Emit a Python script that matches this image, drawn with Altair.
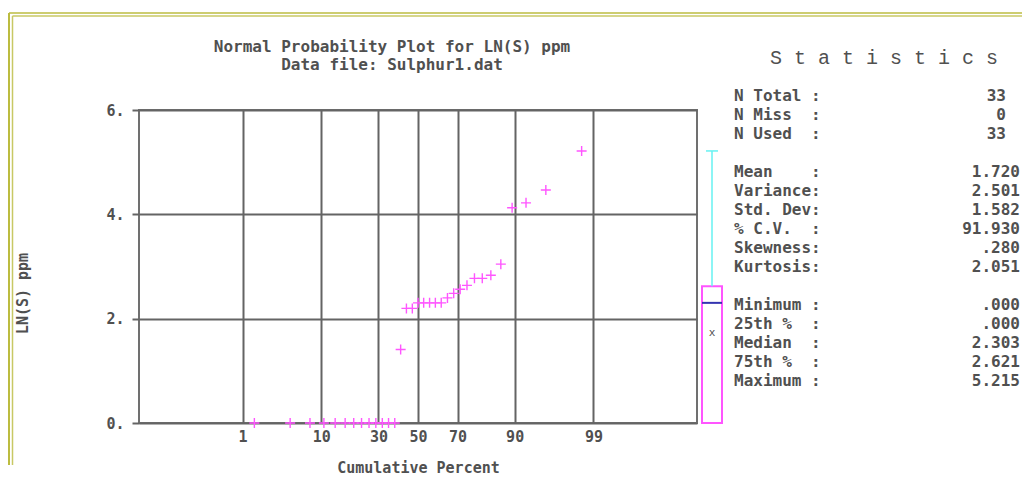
import altair as alt
import pandas as pd
from statistics import NormalDist

# ---------------- data ----------------
cum_pct = [1.5, 4.5, 7.6, 10.6, 13.6, 16.7, 19.7, 22.7, 25.8, 28.8, 31.8, 34.8, 37.9,
           40.9, 43.9, 47.0, 50.0, 53.0, 56.1, 59.1, 62.1, 65.2, 68.2, 71.2, 74.2,
           77.3, 80.3, 83.3, 86.4, 89.4, 92.4, 95.5, 98.5]
ln_s = [0, 0, 0, 0, 0, 0, 0, 0, 0, 0, 0, 0, 0,
        1.41, 2.197, 2.197, 2.303, 2.303, 2.303, 2.303, 2.303,
        2.398, 2.485, 2.565, 2.639, 2.773, 2.773, 2.833, 3.045,
        4.127, 4.220, 4.466, 5.215]
tick_pct = [1, 10, 30, 50, 70, 90, 99]
y_ticks = [0, 2, 4, 6]

stat_labels = ["N Total", "N Miss", "N Used", "Mean", "Variance", "Std. Dev", "% C.V.",
               "Skewness", "Kurtosis", "Minimum", "25th %", "Median", "75th %", "Maximum"]
stat_values = ["33", "0", "33", "1.720", "2.501", "1.582", "91.930", ".280", "2.051",
               ".000", ".000", "2.303", "2.621", "5.215"]
stat_rows = [2, 3, 4, 6, 7, 8, 9, 10, 11, 13, 14, 15, 16, 17]
stat_kind = ["count"] * 3 + ["moment"] * 6 + ["quantile"] * 5

title_lines = ["Normal Probability Plot for LN(S) ppm", "Data file: Sulphur1.dat"]
stats_header = "S t a t i s t i c s"
x_title = "Cumulative Percent"
y_title = "LN(S) ppm"

# ---------------- styling ----------------
FONT = "DejaVu Sans Mono"
TXT = "#505050"
GRID = "#646464"
MAG = "#ff55ff"
OLIVE = "#bcbc40"
OLIVE2 = "#c8c864"

W, H = 558, 313
BOX_W = 20
GAP = 5
STATS_W = 293
ROW_PX = 19
ROW_TOP = 52 / ROW_PX
FS = 16
ADV = 0.602 * FS

# ---------------- main probability plot ----------------
pts = pd.DataFrame({"pct": cum_pct, "ln_s": ln_s})
tick_z = [NormalDist().inv_cdf(p / 100) for p in tick_pct]

main = alt.Chart(pts).transform_calculate(
    z="quantileNormal(datum.pct / 100)"
).mark_point(
    shape="M-1,0H1M0,-1V1", size=100, filled=False, color=MAG,
    strokeWidth=1.4, opacity=1
).encode(
    x=alt.X("z:Q", title=x_title,
            scale=alt.Scale(domain=[-3.7, 3.7], nice=False, zero=False),
            axis=alt.Axis(values=tick_z,
                          labelExpr="format(cumulativeNormal(datum.value) * 100, '.0f')",
                          ticks=False, domain=False, grid=True, gridColor=GRID, gridWidth=2,
                          gridOpacity=1,
                          labelFont=FONT, labelFontSize=15, labelFontWeight="bold",
                          labelColor=TXT, labelPadding=6, labelOverlap=False, labelFlush=False,
                          titleFont=FONT, titleFontSize=15, titleFontWeight="bold",
                          titleColor=TXT, titleY=44, titleBaseline="middle")),
    y=alt.Y("ln_s:Q", title=y_title,
            scale=alt.Scale(domain=[0, 6], nice=False),
            axis=alt.Axis(values=y_ticks, labelExpr="datum.value + '.'",
                          ticks=True, tickSize=7, tickWidth=2, tickColor=GRID,
                          domain=False, grid=True, gridColor=GRID, gridWidth=2, gridOpacity=1,
                          labelFont=FONT, labelFontSize=15, labelFontWeight="bold",
                          labelColor=TXT, labelPadding=8,
                          titleFont=FONT, titleFontSize=15, titleFontWeight="bold",
                          titleColor=TXT, titleX=-117, titleY=183, titleAngle=270,
                          titleAlign="center", titleBaseline="middle")),
).properties(
    width=W, height=H,
    title=alt.Title(title_lines, font=FONT, fontSize=16, fontWeight="bold", color=TXT,
                    anchor="middle", frame="group", dx=-26, offset=30, lineHeight=18),
    view=alt.ViewBackground(stroke="#707070", strokeWidth=2),
)

# ---------------- box plot beside the axis ----------------
sv = dict(zip(stat_labels, stat_values))
box_df = pd.DataFrame({
    "q1": [float(sv["25th %"])], "median": [float(sv["Median"])],
    "q3": [float(sv["75th %"])], "max": [float(sv["Maximum"])],
    "mean": [float(sv["Mean"])],
})
y_sc = alt.Scale(domain=[0, 6], nice=False)
bb = alt.Chart(box_df)
box_rect = bb.mark_rect(fillOpacity=0, stroke=MAG, strokeWidth=2).encode(
    x=alt.value(0), x2=alt.value("width"),
    y=alt.Y("q1:Q", scale=y_sc, axis=None), y2="q3:Q")
box_med = bb.mark_rule(color="#3434b0", strokeWidth=2).encode(
    x=alt.value(0), x2=alt.value("width"),
    y=alt.Y("median:Q", scale=y_sc, axis=None))
whisk = bb.mark_rule(color="#66f2f2", strokeWidth=1.5).encode(
    x=alt.value(BOX_W / 2), y=alt.Y("q3:Q", scale=y_sc, axis=None), y2="max:Q")
cap = bb.mark_rule(color="#66f2f2", strokeWidth=1.5).encode(
    x=alt.value(4), x2=alt.value(16), y=alt.Y("max:Q", scale=y_sc, axis=None))
mean_mk = bb.mark_text(text="x", font=FONT, fontSize=11, color=TXT, baseline="middle").encode(
    x=alt.value(BOX_W / 2), y=alt.Y("mean:Q", scale=y_sc, axis=None))

# window frame (double olive line at top and left)
bdf = pd.DataFrame({"k": [0]})
bc = alt.Chart(bdf)
fr1 = bc.mark_rule(color=OLIVE, strokeWidth=2).encode(
    x=alt.value(-693), y=alt.value(-97), y2=alt.value(355))
fr2 = bc.mark_rule(color=OLIVE2, strokeWidth=1.5).encode(
    x=alt.value(-689.5), y=alt.value(-94), y2=alt.value(355))
fr3 = bc.mark_rule(color=OLIVE, strokeWidth=1.5).encode(
    x=alt.value(-693), x2=alt.value(320), y=alt.value(-97))
fr4 = bc.mark_rule(color=OLIVE2, strokeWidth=1.5).encode(
    x=alt.value(-689.5), x2=alt.value(320), y=alt.value(-94))

box = alt.layer(box_rect, box_med, whisk, cap, mean_mk, fr1, fr2, fr3, fr4).properties(
    width=BOX_W, height=H, view=alt.ViewBackground(strokeWidth=0, stroke="transparent"))

# ---------------- statistics panel ----------------
sdf = pd.DataFrame({"label": stat_labels, "value": stat_values,
                    "row": stat_rows, "kind": stat_kind})
row_sc = alt.Scale(domain=[ROW_TOP, ROW_TOP + H / ROW_PX], nice=False, zero=False, reverse=True)
txt = dict(font=FONT, fontSize=FS, fontWeight="bold", color=TXT, baseline="middle")
sc = alt.Chart(sdf)
lab = sc.mark_text(align="left", **txt).encode(
    x=alt.value(7), y=alt.Y("row:Q", scale=row_sc, axis=None), text="label:N")
col = sc.mark_text(align="left", **txt).encode(
    x=alt.value(7 + 8 * ADV), y=alt.Y("row:Q", scale=row_sc, axis=None), text=alt.value(":"))
val_n = sc.transform_filter("datum.kind == 'count'").mark_text(align="right", **txt).encode(
    x=alt.value(STATS_W - 14), y=alt.Y("row:Q", scale=row_sc, axis=None), text="value:N")
val_o = sc.transform_filter("datum.kind != 'count'").mark_text(align="right", **txt).encode(
    x=alt.value("width"), y=alt.Y("row:Q", scale=row_sc, axis=None), text="value:N")
hdr = alt.Chart(pd.DataFrame({"t": [stats_header], "row": [0]})).mark_text(
    align="center", baseline="middle", font="Liberation Mono", fontSize=20, color=TXT
).encode(x=alt.value(157), y=alt.Y("row:Q", scale=row_sc, axis=None), text="t:N")

stats = alt.layer(hdr, lab, col, val_n, val_o).properties(
    width=STATS_W, height=H, view=alt.ViewBackground(strokeWidth=0, stroke="transparent"))

chart = alt.hconcat(main, box, stats, spacing=GAP, bounds="flush").properties(
    padding={"left": 0, "top": 4, "right": 0, "bottom": 0}
).configure_view(strokeWidth=0).configure(background="white")

chart.save("out.html", embed_options={"renderer": "svg", "actions": False})
